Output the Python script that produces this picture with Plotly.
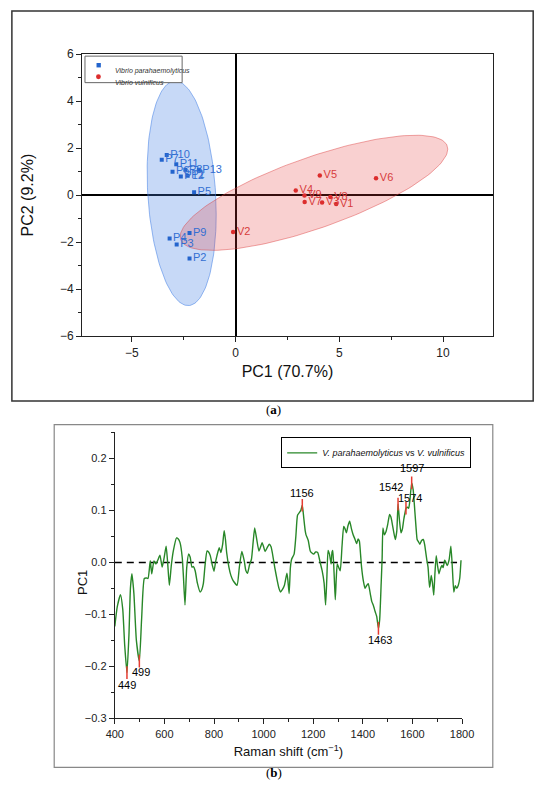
import numpy as np
import plotly.graph_objects as go

# ---------------- panel (a): PCA scores ----------------
p_names = ["P1", "P2", "P3", "P4", "P5", "P6", "P7", "P8", "P9", "P10", "P11", "P12", "P13"]
p_pc1 = [-2.31, -2.22, -2.84, -3.18, -2.00, -3.04, -3.56, -2.42, -2.22, -3.32, -2.86, -2.64, -1.77]
p_pc2 = [0.83, -2.70, -2.10, -1.85, 0.12, 1.00, 1.51, 1.08, -1.61, 1.71, 1.32, 0.79, 1.08]

v_names = ["V1", "V2", "V3", "V4", "V5", "V6", "V7", "V8", "V9"]
v_pc1 = [4.85, -0.12, 4.17, 2.90, 4.06, 6.77, 3.33, 4.57, 3.32]
v_pc2 = [-0.38, -1.57, -0.31, 0.20, 0.84, 0.72, -0.29, -0.08, -0.02]

# confidence ellipses: centre, half extents and cross term
p_ellipse = dict(cx=-2.60, cy=0.08, sx=1.665, sy=4.78, sxy=-1.48)
v_ellipse = dict(cx=3.78, cy=0.10, sx=6.45, sy=2.45, sxy=12.0)

# ---------------- panel (b): PC1 loading ----------------
raman_shift = [
    400, 410, 423, 432, 440, 449, 457, 463, 469, 477, 487, 499, 508, 519, 527, 534,
    543, 549, 558, 566, 574, 582, 591, 599, 607, 613, 620, 628, 636, 649, 656, 663,
    672, 677, 683, 690, 698, 704, 711, 717, 724, 733, 744, 751, 757, 764, 772, 778,
    785, 793, 800, 806, 812, 821, 828, 835, 841, 846, 851, 860, 868, 877, 893, 902,
    912, 922, 928, 935, 943, 951, 958, 964, 972, 981, 988, 994, 1000, 1006, 1014, 1023,
    1030, 1035, 1045, 1055, 1062, 1068, 1076, 1084, 1094, 1098, 1103,
    1108, 1113, 1123, 1130, 1137, 1146, 1150, 1156, 1162, 1168, 1171, 1180, 1188, 1195, 1202, 1210,
    1218, 1228, 1236, 1244, 1250, 1255, 1260, 1266, 1272, 1276, 1279, 1285, 1289, 1293, 1297, 1303,
    1309, 1316, 1323, 1328, 1334, 1340, 1347, 1354, 1361, 1368, 1375, 1381, 1386, 1391, 1395, 1402,
    1409, 1415, 1422, 1430, 1436, 1442, 1450, 1456, 1463, 1468, 1474, 1478, 1481, 1487, 1494, 1500,
    1508, 1513, 1517, 1524, 1531, 1537, 1542, 1548, 1554, 1560, 1565, 1570, 1574, 1580, 1585, 1590,
    1597, 1603, 1610, 1615, 1619, 1624, 1630, 1637, 1644, 1649, 1653, 1658, 1663, 1669, 1672, 1676,
    1681, 1686, 1691, 1696, 1701, 1707, 1713, 1719, 1724, 1730, 1735, 1740, 1748, 1755, 1761, 1767,
    1773, 1779, 1785, 1791, 1796,
]
pc1_loading = [
    -0.123, -0.085, -0.062, -0.090, -0.160, -0.212, -0.140, -0.050, -0.022, -0.060, -0.150, -0.190, -0.110, -0.031, -0.030, -0.031,
    0.003, -0.022, 0.003, -0.003, 0.005, 0.014, -0.009, 0.009, 0.031, 0.000, -0.044, -0.005, 0.022, 0.047, 0.045, 0.038,
    0.009, -0.030, -0.082, -0.010, 0.016, 0.010, -0.009, -0.008, -0.016, -0.040, -0.057, -0.052, -0.041, -0.005, 0.022, 0.020,
    0.013, -0.005, -0.017, 0.000, 0.013, 0.028, 0.019, 0.035, 0.061, 0.045, 0.019, -0.009, -0.025, -0.035, -0.044, -0.010,
    0.021, 0.003, -0.015, -0.021, -0.005, 0.006, 0.040, 0.066, 0.045, 0.022, 0.030, 0.038, 0.030, 0.021, 0.028, 0.035,
    0.030, 0.019, -0.010, -0.035, -0.050, -0.057, -0.052, -0.044, -0.021, -0.035, -0.060,
    -0.010, 0.006, 0.016, 0.050, 0.091, 0.097, 0.100, 0.110, 0.085, 0.060, 0.053, 0.042, 0.022, 0.018, 0.016, 0.020,
    0.019, 0.000, -0.016, -0.040, -0.082, -0.030, 0.023, 0.015, -0.003, 0.020, 0.023, -0.030, -0.072, -0.030, -0.003, -0.010,
    -0.016, 0.030, 0.069, 0.065, 0.057, 0.070, 0.079, 0.065, 0.053, 0.045, 0.036, 0.045, 0.041, 0.015, -0.009, -0.035,
    -0.050, -0.045, -0.041, -0.060, -0.075, -0.082, -0.095, -0.104, -0.127, -0.110, -0.041, 0.010, 0.066, 0.053, 0.060, 0.072,
    0.092, 0.088, 0.079, 0.060, 0.044, 0.060, 0.112, 0.080, 0.057, 0.065, 0.082, 0.095, 0.104, 0.106, 0.104, 0.120,
    0.153, 0.140, 0.097, 0.065, 0.044, 0.040, 0.035, 0.042, 0.044, 0.035, 0.022, 0.005, -0.009, -0.048, -0.040, -0.025,
    -0.040, -0.063, -0.020, 0.013, -0.005, -0.022, -0.012, -0.006, -0.010, 0.004, 0.000, -0.006, 0.005, 0.031, -0.010, -0.057,
    -0.045, -0.050, -0.044, -0.030, 0.004,
]
assert len(raman_shift) == len(pc1_loading)
peak_x = [449, 499, 1156, 1463, 1542, 1574, 1597]

FONT = "Arial, Liberation Sans, sans-serif"
BLUE = "rgb(35,100,205)"
RED = "rgb(220,45,45)"
GREEN = "rgb(40,135,40)"


def ellipse_path(cx, cy, sx, sy, sxy, n=160):
    # cholesky of [[sx^2, sxy], [sxy, sy^2]] gives the conjugate half axes
    t = np.linspace(0, 2 * np.pi, n)
    ay = sxy / sx
    by = np.sqrt(sy ** 2 - ay ** 2)
    return cx + sx * np.cos(t), cy + ay * np.cos(t) + by * np.sin(t)


fig = go.Figure()

# ellipses
for ell, fill, edge in [
    (p_ellipse, "rgba(70,130,230,0.30)", "rgba(70,130,230,0.55)"),
    (v_ellipse, "rgba(230,60,60,0.24)", "rgba(220,60,60,0.45)"),
]:
    ex, ey = ellipse_path(**ell)
    fig.add_trace(go.Scatter(x=ex, y=ey, mode="lines", fill="toself", fillcolor=fill,
                             line=dict(color=edge, width=1), hoverinfo="skip",
                             showlegend=False, xaxis="x", yaxis="y"))

# score points
fig.add_trace(go.Scatter(
    x=p_pc1, y=p_pc2, text=p_names, mode="markers+text", textposition="middle right",
    marker=dict(symbol="square", size=4, color=BLUE),
    textfont=dict(family=FONT, size=11, color="rgb(50,110,210)"),
    name="Vibrio parahaemolyticus", showlegend=False, xaxis="x", yaxis="y"))
fig.add_trace(go.Scatter(
    x=v_pc1, y=v_pc2, text=v_names, mode="markers+text", textposition="middle right",
    marker=dict(symbol="circle", size=4.5, color=RED),
    textfont=dict(family=FONT, size=11, color="rgb(215,60,60)"),
    name="Vibrio vulnificus", showlegend=False, xaxis="x", yaxis="y"))

# loading spectrum
fig.add_trace(go.Scatter(
    x=raman_shift, y=pc1_loading, mode="lines",
    line=dict(color=GREEN, width=1.4, shape="spline", smoothing=0.5),
    name="<i>V. parahaemolyticus</i> vs <i>V. vulnificus</i>", xaxis="x2", yaxis="y2"))

lookup = dict(zip(raman_shift, pc1_loading))
peak_y = [lookup[p] for p in peak_x]
fig.add_trace(go.Scatter(
    x=peak_x, y=peak_y, mode="markers", showlegend=False, hoverinfo="skip",
    marker=dict(symbol="line-ns", size=9, line=dict(color="rgb(230,60,50)", width=1.5)),
    xaxis="x2", yaxis="y2"))

# peak labels: (xshift, yshift, yanchor)
label_pos = {449: (0, -4, "top"), 499: (2, -3, "top"), 1156: (0, 4, "bottom"),
             1463: (2, -4, "top"), 1542: (-7, 9, "bottom"), 1574: (4, 2, "bottom"),
             1597: (0, 7, "bottom")}
for px, py in zip(peak_x, peak_y):
    dx, dy, ya = label_pos[px]
    fig.add_annotation(x=px, y=py, xref="x2", yref="y2", text=str(px), showarrow=False,
                       xshift=dx, yshift=dy, yanchor=ya,
                       font=dict(family=FONT, size=11, color="black"))

tick_font = dict(family=FONT, size=12, color="#222")
axis_common = dict(showline=True, linecolor="#222", linewidth=1.2, showgrid=False,
                   ticks="outside", ticklen=5, tickcolor="#222", tickwidth=1.2)

fig.update_layout(
    width=550, height=800, margin=dict(l=0, r=0, t=0, b=0),
    paper_bgcolor="white", plot_bgcolor="white",
    font=dict(family=FONT, color="#222"),
    xaxis=dict(domain=[76 / 550, 503 / 550], anchor="y", range=[-7.4, 12.4],
               tick0=0, dtick=5, mirror=True, tickfont=tick_font,
               minor=dict(dtick=2.5, ticks="outside", ticklen=3, tickcolor="#222"),
               zeroline=True, zerolinecolor="black", zerolinewidth=1.5,
               title=dict(text="PC1 (70.7%)", font=dict(family=FONT, size=16, color="#111"),
                          standoff=7),
               **axis_common),
    yaxis=dict(domain=[1 - 335 / 800, 1 - 48 / 800], anchor="x", range=[-6, 6],
               tick0=0, dtick=2, mirror=True, tickfont=tick_font,
               minor=dict(dtick=1, ticks="outside", ticklen=3, tickcolor="#222"),
               zeroline=True, zerolinecolor="black", zerolinewidth=1.5,
               title=dict(text="PC2 (9.2%)", font=dict(family=FONT, size=16, color="#111"),
                          standoff=22),
               **axis_common),
    xaxis3=dict(overlaying="x", side="top", anchor="y", range=[-7.4, 12.4], tick0=0, dtick=5,
                ticks="inside", ticklen=5, tickcolor="#222", tickwidth=1.2,
                minor=dict(dtick=2.5, ticks="inside", ticklen=3, tickcolor="#222"),
                showticklabels=False, showgrid=False, zeroline=False, showline=False),
    yaxis3=dict(overlaying="y", side="right", anchor="x", range=[-6, 6], tick0=0, dtick=2,
                ticks="inside", ticklen=5, tickcolor="#222", tickwidth=1.2,
                minor=dict(dtick=1, ticks="inside", ticklen=3, tickcolor="#222"),
                showticklabels=False, showgrid=False, zeroline=False, showline=False),
    xaxis2=dict(domain=[110 / 550, 471 / 550], anchor="y2", range=[400, 1800],
                tick0=400, dtick=200, zeroline=False,
                tickfont=dict(family=FONT, size=11, color="#222"),
                minor=dict(dtick=100, ticks="outside", ticklen=3, tickcolor="#222"),
                title=dict(text="Raman shift (cm<sup>−1</sup>)",
                           font=dict(family=FONT, size=13, color="#111"), standoff=8),
                **axis_common),
    yaxis2=dict(domain=[1 - 724 / 800, 1 - 433 / 800], anchor="x2", range=[-0.3, 0.25],
                tick0=0, dtick=0.1, tickformat=".1f", zeroline=False,
                tickfont=dict(family=FONT, size=11, color="#222"),
                minor=dict(dtick=0.05, ticks="outside", ticklen=3, tickcolor="#222"),
                **axis_common),
    showlegend=True,
    legend=dict(x=283 / 550, y=1 - 438 / 800, xanchor="left", yanchor="top",
                bgcolor="white", bordercolor="black", borderwidth=1, itemwidth=30,
                font=dict(family=FONT, size=9, color="#111")),
)

# dashed zero line of the loading plot
fig.add_shape(type="line", xref="x2", yref="y2", x0=400, x1=1780, y0=0, y1=0,
              line=dict(color="black", width=1.5, dash="7px,5px"), layer="below")

# panel frames
fig.add_shape(type="rect", xref="paper", yref="paper", x0=3 / 550, x1=545 / 550,
              y0=1 - 401 / 800, y1=1 - 4 / 800, line=dict(color="#333", width=1.5))
fig.add_shape(type="rect", xref="paper", yref="paper", x0=47 / 550, x1=503 / 550,
              y0=1 - 774 / 800, y1=1 - 425 / 800, line=dict(color="#888", width=1.2))

# legend of panel (a)
fig.add_shape(type="rect", xref="paper", yref="paper", x0=79 / 550, x1=180 / 550,
              y0=1 - 77 / 800, y1=1 - 50 / 800, fillcolor="white", layer="above",
              line=dict(color="#666", width=1))
fig.add_shape(type="rect", xref="paper", yref="paper", x0=91 / 550, x1=95.5 / 550,
              y0=1 - 61.5 / 800, y1=1 - 57 / 800, fillcolor=BLUE, line=dict(width=0))
fig.add_shape(type="circle", xref="paper", yref="paper", x0=90.5 / 550, x1=95.5 / 550,
              y0=1 - 73.5 / 800, y1=1 - 68.5 / 800, fillcolor=RED, line=dict(width=0))
for txt, yy in [("Vibrio parahaemolyticus", 59), ("Vibrio vulnificus", 71)]:
    fig.add_annotation(xref="paper", yref="paper", x=108 / 550, y=1 - yy / 800,
                       text="<i>" + txt + "</i>", showarrow=False, xanchor="left",
                       font=dict(family=FONT, size=7, color="#333"))

# y title of panel (b)
fig.add_annotation(xref="paper", yref="paper", x=66 / 550, y=1 - 600 / 800, text="PC1",
                   textangle=-90, showarrow=False,
                   font=dict(family=FONT, size=13, color="#111"))

# captions
for lab, yy in [("a", 410), ("b", 789)]:
    fig.add_annotation(xref="paper", yref="paper", x=0.5, y=1 - yy / 800,
                       text="(<b>" + lab + "</b>)", showarrow=False,
                       font=dict(family="Liberation Serif, DejaVu Serif, serif", size=13,
                                 color="black"))

# page body margin would push the 550x800 figure out of the window
fig.write_html("out.html", config={"displayModeBar": False},
               post_script="document.body.style.margin = '0';")
